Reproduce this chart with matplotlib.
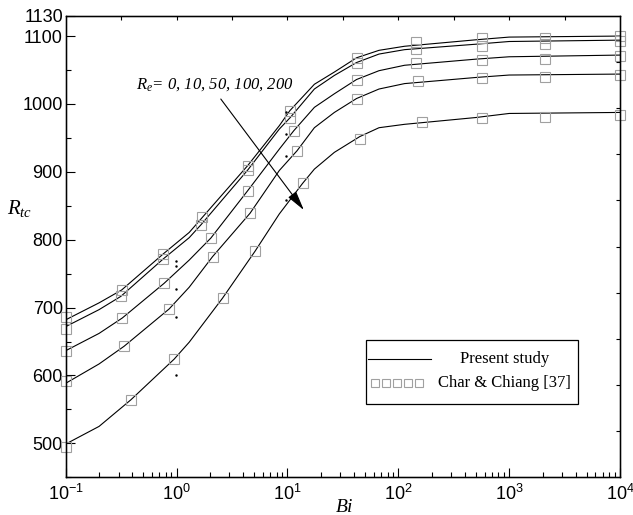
import numpy as np
import matplotlib
matplotlib.use("Agg")
import matplotlib.pyplot as plt
from matplotlib.ticker import LogLocator, MultipleLocator, NullFormatter
from matplotlib.patches import Rectangle

plt.rcParams['font.family'] = 'Liberation Sans'
plt.rcParams['mathtext.fontset'] = 'custom'
plt.rcParams['mathtext.rm'] = 'Liberation Serif'
plt.rcParams['mathtext.it'] = 'Liberation Serif:italic'

# ---- data (Bi, R_tc) ----
re_values = [0, 10, 50, 100, 200]

# Present study (solid lines), one list per Re
bi_re0 = [0.1, 0.2, 0.32, 0.757, 1.3, 1.71, 4.37, 8.45, 10.5, 17.5, 26.5, 42, 67, 114, 500, 1000, 10000]
rtc_re0 = [682, 707, 726, 779, 810.7, 833, 909, 968, 990, 1029, 1047, 1068, 1079, 1085, 1094.5, 1098.5, 1100]
bi_re10 = [0.1, 0.2, 0.314, 0.757, 1.3, 1.66, 4.4, 8.45, 10.6, 17.5, 26.5, 42, 67, 114, 500, 1000, 10000]
rtc_re10 = [672, 697, 716.5, 771.6, 803, 822, 903, 963, 980, 1022, 1042, 1061, 1073.5, 1080, 1088, 1092, 1094]
bi_re50 = [0.1, 0.2, 0.324, 0.77, 1.3, 2.04, 4.37, 8.45, 11.4, 17.5, 26.5, 42, 67, 114, 500, 1000, 10000]
rtc_re50 = [636.5, 662, 684.7, 735.6, 770, 802.5, 872, 933.5, 960.5, 995, 1015, 1036, 1049, 1057, 1066, 1069.5, 1072]
bi_re100 = [0.1, 0.2, 0.336, 0.857, 1.3, 2.11, 4.6, 8.45, 12.2, 17.5, 26.5, 42, 67, 114, 500, 1000, 10000]
rtc_re100 = [588.5, 617, 643, 698, 730, 775, 839, 902, 931, 965, 987.5, 1008, 1022, 1030, 1039, 1042.6, 1044]
bi_re200 = [0.1, 0.2, 0.386, 0.95, 1.3, 2.6, 5.1, 8.45, 13.7, 17.5, 26.5, 45, 67, 114, 500, 1000, 10000]
rtc_re200 = [499, 525, 564, 624, 649, 714, 783, 838, 883, 904, 928.7, 952, 965, 970, 980, 986, 987.5]

# Char & Chiang [37] (open squares)
cc_bi_re0 = [0.1, 0.32, 0.757, 1.71, 4.37, 10.5, 42, 145, 569, 2125, 10000]
cc_rtc_re0 = [685.6, 726, 779, 833, 909, 990, 1068, 1090.6, 1097.6, 1097.6, 1100]
cc_bi_re10 = [0.1, 0.314, 0.757, 1.66, 4.4, 10.6, 42, 145, 569, 2125, 10000]
cc_rtc_re10 = [668.5, 716.5, 771.6, 822, 903, 980, 1061, 1080.8, 1086, 1088, 1093]
cc_bi_re50 = [0.1, 0.324, 0.77, 2.04, 4.37, 11.4, 42, 145, 569, 2125, 10000]
cc_rtc_re50 = [636.5, 684.7, 736, 802.5, 872, 960.5, 1036, 1060, 1065, 1066, 1071]
cc_bi_re100 = [0.1, 0.336, 0.857, 2.11, 4.6, 12.2, 42, 151, 569, 2125, 10000]
cc_rtc_re100 = [592, 643, 698, 775, 839, 931, 1008, 1034, 1038, 1039, 1043]
cc_bi_re200 = [0.1, 0.386, 0.95, 2.6, 5.1, 13.7, 45, 162, 569, 2125, 10000]
cc_rtc_re200 = [494, 564, 624, 714, 783, 883, 948, 974, 978.6, 981, 984]

# stray dots in the original figure
dot_bi = [0.986, 0.986, 0.986, 0.986, 0.986, 9.7, 9.7, 9.7, 9.7]
dot_rtc = [601, 685.6, 727, 761, 768.6, 858.5, 923.7, 955.6, 987.5]

y_ticks = [500, 600, 700, 800, 900, 1000, 1100, 1130]

lines = [(bi_re0, rtc_re0), (bi_re10, rtc_re10), (bi_re50, rtc_re50),
         (bi_re100, rtc_re100), (bi_re200, rtc_re200)]
squares = [(cc_bi_re0, cc_rtc_re0), (cc_bi_re10, cc_rtc_re10), (cc_bi_re50, cc_rtc_re50),
           (cc_bi_re100, cc_rtc_re100), (cc_bi_re200, cc_rtc_re200)]

grey = '#a0a0a0'

fig = plt.figure(figsize=(6.33, 5.15), dpi=100)
ax = fig.add_axes([0.1038, 0.0732, 0.8757, 0.8963])

for bx, ry in lines:
    ax.plot(bx, ry, color='black', lw=0.8)
for bx, ry in squares:
    ax.plot(bx, ry, ls='none', marker='s', ms=6.5, mfc='none', mec=grey, mew=0.8,
            clip_on=False)
ax.plot(dot_bi, dot_rtc, ls='none', marker='.', ms=1.5, color='black')

ax.set_xscale('log')
ax.set_xlim(0.1, 1e4)
ax.set_ylim(450, 1130)
ax.xaxis.set_major_locator(LogLocator(base=10, numticks=10))
ax.xaxis.set_minor_locator(LogLocator(base=10, subs=np.arange(2, 10), numticks=20))
ax.xaxis.set_minor_formatter(NullFormatter())
ax.set_yticks(y_ticks)
ax.set_yticklabels([str(v) for v in y_ticks])
ax.yaxis.set_minor_locator(MultipleLocator(50))

ax.tick_params(which='major', direction='in', length=6.5, width=0.8, labelsize=13)
ax.tick_params(which='minor', direction='in', length=3.5, width=0.8)
ax.tick_params(axis='x', which='major', pad=5)
ax.tick_params(axis='y', which='major', pad=2)
for s in ax.spines.values():
    s.set_linewidth(1.0)

# ticks on top and right: 10 equal divisions
axr = ax.twinx()
axr.set_ylim(0, 1)
axr.set_yticks(np.linspace(0.1, 0.9, 9))
axr.tick_params(direction='in', length=3, width=0.8, labelright=False)
axt = ax.twiny()
axt.set_xlim(0, 1)
axt.set_xticks(np.linspace(0.1, 0.9, 9))
axt.tick_params(direction='in', length=3, width=0.8, labeltop=False)

# axis labels
ax.text(-0.083, 0.583, r'$R_{tc}$', transform=ax.transAxes, fontsize=15,
        ha='center', va='center')
fig.text(344 / 633, 1 - 507 / 515, r'$Bi$', fontsize=14, ha='center', va='center')

# Re annotation with arrow
ax.text(0.1276, 0.8427, r'$R_e$= 0, 10, 50, 100, 200', transform=ax.transAxes,
        fontsize=12, family='Liberation Serif', style='italic', va='baseline')
ax.annotate('', xy=(0.4296, 0.579), xycoords='axes fraction',
            xytext=(0.2798, 0.8195), textcoords='axes fraction',
            arrowprops=dict(arrowstyle='-|>,head_length=1.2,head_width=0.3',
                            color='black', lw=0.8, mutation_scale=10, shrinkA=0, shrinkB=0))

# legend box
lx0, lx1, ly0, ly1 = 0.5415, 0.924, 0.1588, 0.2974
ax.add_patch(Rectangle((lx0, ly0), lx1 - lx0, ly1 - ly0, transform=ax.transAxes,
                       facecolor='white', edgecolor='black', lw=0.9, zorder=5))
ax.plot([0.5451, 0.6588], [0.2563, 0.2563], transform=ax.transAxes,
        color='black', lw=0.8, zorder=6)
ax.plot(np.linspace(0.5576, 0.6379, 5), [0.2036] * 5, transform=ax.transAxes, ls='none',
        marker='s', ms=5.5, mfc='none', mec=grey, mew=0.8, zorder=6)
ax.text(0.7924, 0.2563, 'Present study', transform=ax.transAxes, ha='center', va='center',
        family='Liberation Serif', fontsize=12, zorder=7)
ax.text(0.6715, 0.2036, 'Char & Chiang [37]', transform=ax.transAxes, ha='left', va='center',
        family='Liberation Serif', fontsize=12, zorder=7)

fig.savefig('out.png', dpi=100)
